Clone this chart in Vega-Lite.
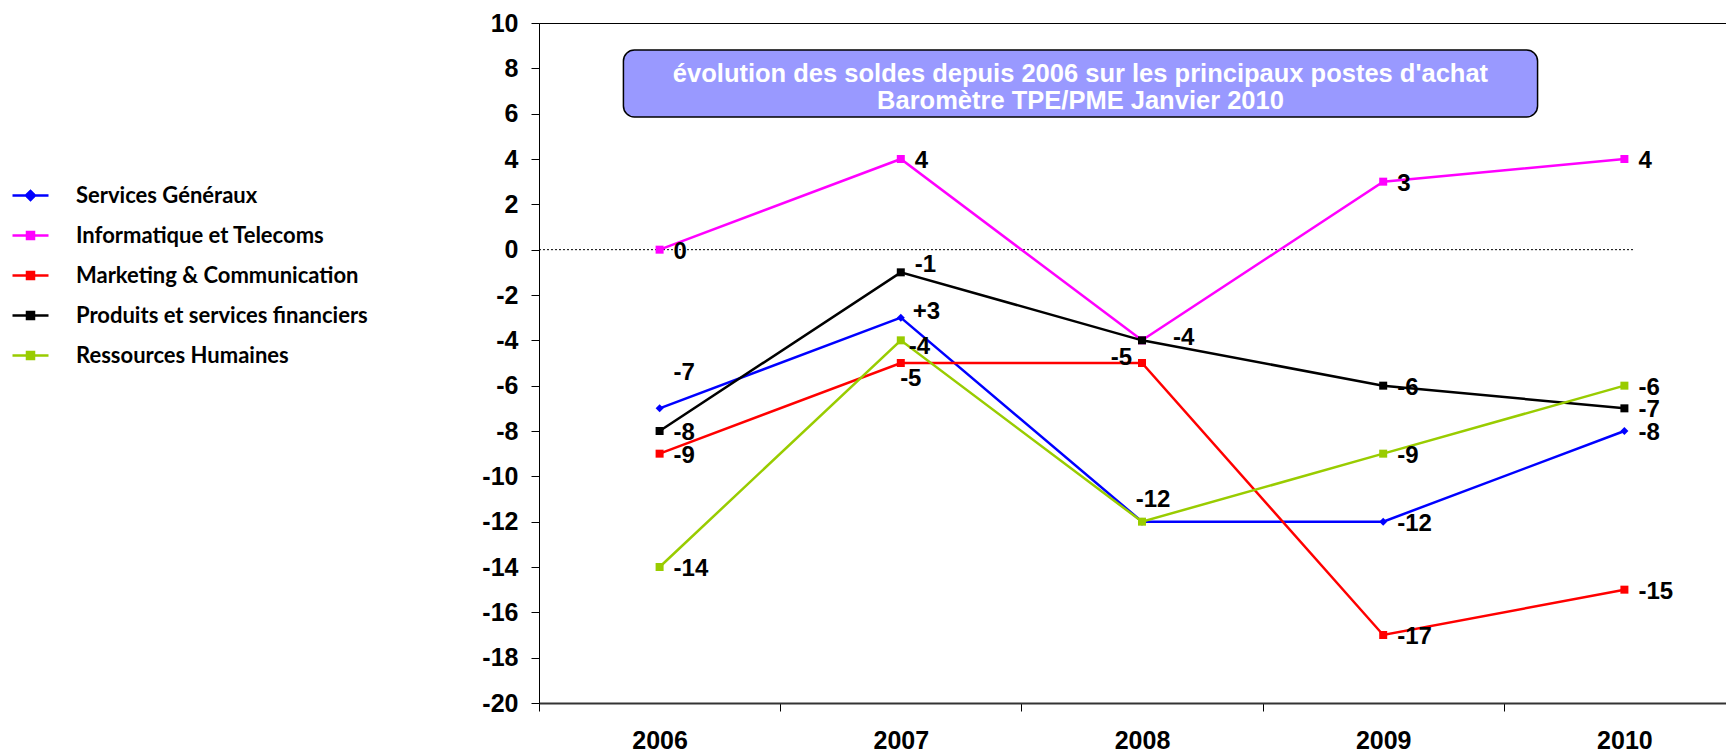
{
  "$schema": "https://vega.github.io/schema/vega-lite/v6.json",
  "autosize": {"type": "none"},
  "padding": {"left": 539, "top": 23, "right": 0, "bottom": 50},
  "width": 1206,
  "height": 680,
  "background": "white",
  "config": {
    "view": {"stroke": "#000000", "strokeWidth": 1},
    "font": "Liberation Sans"
  },
  "datasets": {
    "series": [
      {"series": "Services Généraux", "year": 2006, "value": -7, "label": "-7"},
      {"series": "Services Généraux", "year": 2007, "value": -3, "label": "+3"},
      {"series": "Services Généraux", "year": 2008, "value": -12, "label": ""},
      {"series": "Services Généraux", "year": 2009, "value": -12, "label": "-12"},
      {"series": "Services Généraux", "year": 2010, "value": -8, "label": "-8"},
      {"series": "Informatique et Telecoms", "year": 2006, "value": 0, "label": "0"},
      {"series": "Informatique et Telecoms", "year": 2007, "value": 4, "label": "4"},
      {"series": "Informatique et Telecoms", "year": 2008, "value": -4, "label": ""},
      {"series": "Informatique et Telecoms", "year": 2009, "value": 3, "label": "3"},
      {"series": "Informatique et Telecoms", "year": 2010, "value": 4, "label": "4"},
      {"series": "Marketing & Communication", "year": 2006, "value": -9, "label": "-9"},
      {"series": "Marketing & Communication", "year": 2007, "value": -5, "label": "-5"},
      {"series": "Marketing & Communication", "year": 2008, "value": -5, "label": "-5"},
      {"series": "Marketing & Communication", "year": 2009, "value": -17, "label": "-17"},
      {"series": "Marketing & Communication", "year": 2010, "value": -15, "label": "-15"},
      {"series": "Produits et services financiers", "year": 2006, "value": -8, "label": "-8"},
      {"series": "Produits et services financiers", "year": 2007, "value": -1, "label": "-1"},
      {"series": "Produits et services financiers", "year": 2008, "value": -4, "label": "-4"},
      {"series": "Produits et services financiers", "year": 2009, "value": -6, "label": "-6"},
      {"series": "Produits et services financiers", "year": 2010, "value": -7, "label": "-7"},
      {"series": "Ressources Humaines", "year": 2006, "value": -14, "label": "-14"},
      {"series": "Ressources Humaines", "year": 2007, "value": -4, "label": "-4"},
      {"series": "Ressources Humaines", "year": 2008, "value": -12, "label": "-12"},
      {"series": "Ressources Humaines", "year": 2009, "value": -9, "label": "-9"},
      {"series": "Ressources Humaines", "year": 2010, "value": -6, "label": "-6"}
    ],
    "titlebox": [
      {"x": 2005.85, "x2": 2009.64, "y": 5.85, "y2": 8.81}
    ],
    "titletext": [
      {"x": 2007.745, "y": 7.75, "text": "évolution des soldes depuis 2006 sur les principaux postes d'achat"},
      {"x": 2007.745, "y": 6.56, "text": "Baromètre TPE/PME Janvier 2010"}
    ],
    "zeroline": [
      {"x": 2005.5, "x2": 2010.04, "y": 0}
    ]
  },
  "layer": [
    {
      "data": {"name": "zeroline"},
      "mark": {"type": "rule", "color": "#000000", "strokeWidth": 1, "strokeDash": [2, 2]},
      "encoding": {
        "x": {"field": "x", "type": "quantitative",
          "scale": {"domain": [2005.5, 2010.5], "nice": false, "zero": false},
          "axis": {
            "values": [2005.5, 2006.5, 2007.5, 2008.5, 2009.5],
            "labelExpr": "toString(datum.value + 0.5)",
            "labelOffset": 120.6,
            "labelFlush": false,
            "labelOverlap": false,
            "labelBound": false,
            "labelFont": "Liberation Sans",
            "labelFontWeight": "bold",
            "labelFontSize": 25,
            "labelColor": "#000000",
            "labelPadding": 17,
            "domainColor": "#333333",
            "domainWidth": 2,
            "tickColor": "#000000",
            "tickSize": 8,
            "tickWidth": 1,
            "grid": false,
            "title": null
          }
        },
        "x2": {"field": "x2"},
        "y": {"field": "y", "type": "quantitative",
          "scale": {"domain": [-20, 10], "nice": false, "zero": false},
          "axis": {
            "values": [-20, -18, -16, -14, -12, -10, -8, -6, -4, -2, 0, 2, 4, 6, 8, 10],
            "labelExpr": "toString(datum.value)",
            "labelFont": "Liberation Sans",
            "labelFontWeight": "bold",
            "labelFontSize": 25,
            "labelColor": "#000000",
            "labelPadding": 13,
            "labelOverlap": false,
            "labelBound": false,
            "labelFlush": false,
            "domainColor": "#000000",
            "domainWidth": 1,
            "tickColor": "#000000",
            "tickSize": 8,
            "grid": false,
            "title": null
          }
        }
      }
    },
    {
      "data": {"name": "titlebox"},
      "mark": {"type": "rect", "fill": "#9999FF", "stroke": "#000000", "strokeWidth": 1.5, "cornerRadius": 11},
      "encoding": {
        "x": {"field": "x", "type": "quantitative"},
        "x2": {"field": "x2"},
        "y": {"field": "y", "type": "quantitative"},
        "y2": {"field": "y2"}
      }
    },
    {
      "data": {"name": "titletext"},
      "mark": {"type": "text", "color": "#FFFFFF", "font": "Liberation Sans", "fontWeight": "bold", "fontSize": 25.5, "align": "center", "baseline": "middle"},
      "encoding": {
        "x": {"field": "x", "type": "quantitative"},
        "y": {"field": "y", "type": "quantitative"},
        "text": {"field": "text"}
      }
    },
    {
      "data": {"name": "series"},
      "mark": {"type": "line", "strokeWidth": 2.5},
      "encoding": {
        "x": {"field": "year", "type": "quantitative"},
        "y": {"field": "value", "type": "quantitative"},
        "color": {
          "field": "series", "type": "nominal",
          "scale": {
            "domain": ["Services Généraux", "Informatique et Telecoms", "Marketing & Communication", "Produits et services financiers", "Ressources Humaines"],
            "range": ["#0000FF", "#FF00FF", "#FF0000", "#000000", "#99CC00"]
          },
          "legend": {
            "orient": "none",
            "legendX": -520,
            "legendY": 161,
            "title": null,
            "padding": 0,
            "symbolType": "M-1.8,0H1.8M-0.35,-0.35H0.35V0.35H-0.35Z",
            "symbolSize": 400,
            "symbolStrokeWidth": 2.5,
            "labelFont": "Lato",
            "labelFontWeight": "bold",
            "labelFontSize": 22,
            "labelColor": "#000000",
            "labelOffset": 34,
            "labelLimit": 400,
            "rowPadding": 17,
            "encode": {
              "symbols": {"update": {
                "fill": {"scale": "color", "field": "value"},
                "fillOpacity": {"value": 1},
                "shape": {"signal": "datum.value == 'Services Généraux' ? 'M-1.8,0H1.8M-0.45,0L0,-0.45L0.45,0L0,0.45Z' : 'M-1.8,0H1.8M-0.35,-0.35H0.35V0.35H-0.35Z'"}
              }}
            }
          }
        }
      }
    },
    {
      "data": {"name": "series"},
      "transform": [{"filter": "datum.series == 'Services Généraux'"}],
      "mark": {"type": "point", "filled": true, "opacity": 1, "shape": "diamond", "size": 64},
      "encoding": {
        "x": {"field": "year", "type": "quantitative"},
        "y": {"field": "value", "type": "quantitative"},
        "color": {"field": "series", "type": "nominal"}
      }
    },
    {
      "data": {"name": "series"},
      "transform": [{"filter": "datum.series != 'Services Généraux'"}],
      "mark": {"type": "point", "filled": true, "opacity": 1, "shape": "square", "size": 64},
      "encoding": {
        "x": {"field": "year", "type": "quantitative"},
        "y": {"field": "value", "type": "quantitative"},
        "color": {"field": "series", "type": "nominal"}
      }
    },
    {
      "data": {"name": "series"},
      "transform": [
        {"filter": "datum.label != '' && !((datum.series == 'Services Généraux' && (datum.year == 2006 || datum.year == 2007)) || (datum.series == 'Ressources Humaines' && (datum.year == 2007 || datum.year == 2008)) || (datum.series == 'Produits et services financiers' && (datum.year == 2007 || datum.year == 2008)) || (datum.series == 'Marketing & Communication' && (datum.year == 2007 || datum.year == 2008)))"}
      ],
      "mark": {"type": "text", "font": "Liberation Sans", "fontWeight": "bold", "fontSize": 24, "align": "left", "baseline": "middle", "dx": 14, "dy": 2, "color": "#000000"},
      "encoding": {
        "x": {"field": "year", "type": "quantitative"},
        "y": {"field": "value", "type": "quantitative"},
        "text": {"field": "label"}
      }
    },
    {
      "data": {"name": "series"},
      "transform": [{"filter": "datum.series == 'Services Généraux' && datum.year == 2006"}],
      "mark": {"type": "text", "font": "Liberation Sans", "fontWeight": "bold", "fontSize": 24, "align": "left", "baseline": "middle", "dx": 14, "dy": -35, "color": "#000000"},
      "encoding": {
        "x": {"field": "year", "type": "quantitative"},
        "y": {"field": "value", "type": "quantitative"},
        "text": {"field": "label"}
      }
    },
    {
      "data": {"name": "series"},
      "transform": [{"filter": "datum.series == 'Services Généraux' && datum.year == 2007"}],
      "mark": {"type": "text", "font": "Liberation Sans", "fontWeight": "bold", "fontSize": 24, "align": "left", "baseline": "middle", "dx": 12, "dy": -6, "color": "#000000"},
      "encoding": {
        "x": {"field": "year", "type": "quantitative"},
        "y": {"field": "value", "type": "quantitative"},
        "text": {"field": "label"}
      }
    },
    {
      "data": {"name": "series"},
      "transform": [{"filter": "datum.series == 'Ressources Humaines' && datum.year == 2007"}],
      "mark": {"type": "text", "font": "Liberation Sans", "fontWeight": "bold", "fontSize": 24, "align": "left", "baseline": "middle", "dx": 8, "dy": 7, "color": "#000000"},
      "encoding": {
        "x": {"field": "year", "type": "quantitative"},
        "y": {"field": "value", "type": "quantitative"},
        "text": {"field": "label"}
      }
    },
    {
      "data": {"name": "series"},
      "transform": [{"filter": "datum.series == 'Produits et services financiers' && datum.year == 2007"}],
      "mark": {"type": "text", "font": "Liberation Sans", "fontWeight": "bold", "fontSize": 24, "align": "left", "baseline": "middle", "dx": 14, "dy": -7, "color": "#000000"},
      "encoding": {
        "x": {"field": "year", "type": "quantitative"},
        "y": {"field": "value", "type": "quantitative"},
        "text": {"field": "label"}
      }
    },
    {
      "data": {"name": "series"},
      "transform": [{"filter": "datum.series == 'Marketing & Communication' && datum.year == 2007"}],
      "mark": {"type": "text", "font": "Liberation Sans", "fontWeight": "bold", "fontSize": 24, "align": "center", "baseline": "middle", "dx": 10, "dy": 16, "color": "#000000"},
      "encoding": {
        "x": {"field": "year", "type": "quantitative"},
        "y": {"field": "value", "type": "quantitative"},
        "text": {"field": "label"}
      }
    },
    {
      "data": {"name": "series"},
      "transform": [{"filter": "datum.series == 'Produits et services financiers' && datum.year == 2008"}],
      "mark": {"type": "text", "font": "Liberation Sans", "fontWeight": "bold", "fontSize": 24, "align": "left", "baseline": "middle", "dx": 31, "dy": -2, "color": "#000000"},
      "encoding": {
        "x": {"field": "year", "type": "quantitative"},
        "y": {"field": "value", "type": "quantitative"},
        "text": {"field": "label"}
      }
    },
    {
      "data": {"name": "series"},
      "transform": [{"filter": "datum.series == 'Marketing & Communication' && datum.year == 2008"}],
      "mark": {"type": "text", "font": "Liberation Sans", "fontWeight": "bold", "fontSize": 24, "align": "right", "baseline": "middle", "dx": -10, "dy": -5, "color": "#000000"},
      "encoding": {
        "x": {"field": "year", "type": "quantitative"},
        "y": {"field": "value", "type": "quantitative"},
        "text": {"field": "label"}
      }
    },
    {
      "data": {"name": "series"},
      "transform": [{"filter": "datum.series == 'Ressources Humaines' && datum.year == 2008"}],
      "mark": {"type": "text", "font": "Liberation Sans", "fontWeight": "bold", "fontSize": 24, "align": "center", "baseline": "middle", "dx": 11, "dy": -22, "color": "#000000"},
      "encoding": {
        "x": {"field": "year", "type": "quantitative"},
        "y": {"field": "value", "type": "quantitative"},
        "text": {"field": "label"}
      }
    }
  ]
}
